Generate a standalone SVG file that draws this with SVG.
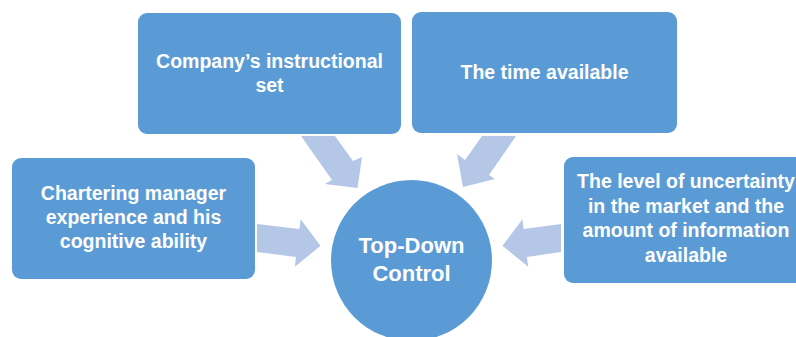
<svg xmlns="http://www.w3.org/2000/svg" width="796" height="337" viewBox="0 0 796 337">
<style>
.box{fill:#5B9BD5;}
.arr{fill:#B4C7E7;}
.t{font-family:"Liberation Sans",Arial,sans-serif;font-weight:bold;fill:#FFFFFF;text-anchor:middle;font-size:19.5px;}
.tc{font-size:22px;}
</style>
<rect width="796" height="337" fill="#FFFFFF"/>
<g id="connectors">
<polygon class="arr" points="301,136 335,136 353,161 362,157 357.5,188 325,184 332,180"/>
<polygon class="arr" points="482,136 516,136 489,175 495,179 463,187 457,154 465,160"/>
<polygon class="arr" points="257,223.9 299.4,229.1 300.6,219.2 320.5,245.8 294.8,266.8 296,256.9 257,252.1"/>
<polygon class="arr" points="561,223.9 523.6,229.1 522.4,219.2 502.5,245.8 528.2,266.8 527,256.9 561,252.1"/>
</g>
<g id="node-company">
<rect class="box" x="138" y="13" width="263" height="121" rx="9"/>
<text class="t" x="269.5" y="68">Company’s instructional</text>
<text class="t" x="269.5" y="92">set</text>
</g>
<g id="node-time">
<rect class="box" x="412" y="12" width="265" height="121" rx="9"/>
<text class="t" x="544.5" y="79">The time available</text>
</g>
<g id="node-chartering">
<rect class="box" x="12" y="158" width="243" height="121" rx="9"/>
<text class="t" x="133.5" y="200">Chartering manager</text>
<text class="t" x="133.5" y="224">experience and his</text>
<text class="t" x="133.5" y="248">cognitive ability</text>
</g>
<g id="node-uncertainty">
<rect class="box" x="564" y="157" width="244" height="126" rx="9"/>
<text class="t" x="686" y="188">The level of uncertainty</text>
<text class="t" x="686" y="213">in the market and the</text>
<text class="t" x="686" y="237">amount of information</text>
<text class="t" x="686" y="262">available</text>
</g>
<g id="node-topdown">
<circle class="box" cx="411.5" cy="260.5" r="80.5"/>
<text class="t tc" x="411.5" y="253">Top-Down</text>
<text class="t tc" x="411.5" y="281">Control</text>
</g>
</svg>
